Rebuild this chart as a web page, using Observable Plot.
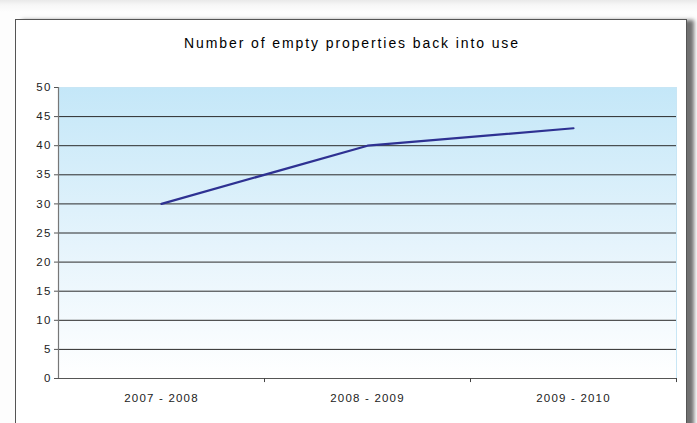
<!DOCTYPE html>
<html>
<head>
<meta charset="utf-8">
<script src="https://cdn.jsdelivr.net/npm/d3@7"></script>
<script src="https://cdn.jsdelivr.net/npm/@observablehq/plot@0.6"></script>
<style>
  html, body { margin: 0; padding: 0; }
  body { width: 697px; height: 423px; overflow: hidden; background: linear-gradient(#e9e9e9, #f7f7f7 5px, #fdfdfd 12px, #fdfdfd); position: relative; font-family: "Liberation Sans", Arial, sans-serif; }
  #frame { position: absolute; left: 15px; top: 19px; width: 672px; height: 420px; box-sizing: border-box; border: 1px solid #555; background: #fff; box-shadow: 7px 1px 4px #707070; }
  #title { position: absolute; left: 0; right: 0; top: 15px; text-align: center; font-size: 14px; line-height: 16px; letter-spacing: 1.9px; color: #000; padding-left: 2px; }
  #chart { position: absolute; left: 0; top: 50px; }
</style>
</head>
<body>
<div id="frame">
  <div id="title">Number of empty properties back into use</div>
  <div id="chart"></div>
</div>
<script>
const categories = ["2007 - 2008", "2008 - 2009", "2009 - 2010"];
const values = [30, 40, 43];
const yTicks = [0, 5, 10, 15, 20, 25, 30, 35, 40, 45, 50];
const gridTicks = [5, 10, 15, 20, 25, 30, 35, 40, 45];

const data = categories.map((c, i) => ({ period: c, value: values[i] }));

const W = 670, H = 354, ML = 42, MR = 10, MT = 17, MB = 46;
const halfBand = (W - ML - MR) / categories.length / 2;

const plot = Plot.plot({
  width: W,
  height: H,
  marginLeft: ML,
  marginRight: MR,
  marginTop: MT,
  marginBottom: MB,
  style: { fontFamily: "'Liberation Sans', Arial, sans-serif", fontSize: "11.5px", color: "#222", background: "transparent", letterSpacing: "1.2px" },
  x: { type: "band", domain: categories, padding: 0, label: null },
  y: { domain: [0, 50], label: null },
  marks: [
    Plot.frame({ fill: "#fff", stroke: "#c8e6f5" }),
    Plot.ruleY(gridTicks, { stroke: "#2a2a2a", strokeWidth: 1 }),
    Plot.ruleY([0], { stroke: "#555", strokeWidth: 1.2 }),
    Plot.ruleX([categories[0]], { dx: -halfBand, y1: 0, y2: 50, stroke: "#777", strokeWidth: 1.2 }),
    Plot.ruleX(categories, { dx: halfBand, y1: 0, y2: -0.7, stroke: "#444" }),
    Plot.axisY({ ticks: yTicks, tickSize: 4, tickPadding: 3, fontSize: 11.5, stroke: "#555", fill: "#222", label: null }),
    Plot.axisX({ tickSize: 0, tickPadding: 15, fontSize: 11.5, fill: "#222", label: null }),
    Plot.line(data, { x: "period", y: "value", stroke: "#2e3192", strokeWidth: 2.2 })
  ]
});

// gradient background for the plot area
const ns = "http://www.w3.org/2000/svg";
const defs = document.createElementNS(ns, "defs");
defs.innerHTML = '<linearGradient id="bg" x1="0" y1="0" x2="0" y2="1">' +
  '<stop offset="0" stop-color="#c4e7f8"/>' +
  '<stop offset="0.55" stop-color="#e6f4fc"/>' +
  '<stop offset="1" stop-color="#ffffff"/></linearGradient>';
plot.insertBefore(defs, plot.firstChild);
const frameRect = plot.querySelector('[aria-label="frame"]');
if (frameRect) {
  const r = frameRect.tagName.toLowerCase() === "rect" ? frameRect : frameRect.querySelector("rect");
  if (r) r.setAttribute("fill", "url(#bg)");
  else frameRect.setAttribute("fill", "url(#bg)");
}
document.getElementById("chart").appendChild(plot);
</script>
</body>
</html>
